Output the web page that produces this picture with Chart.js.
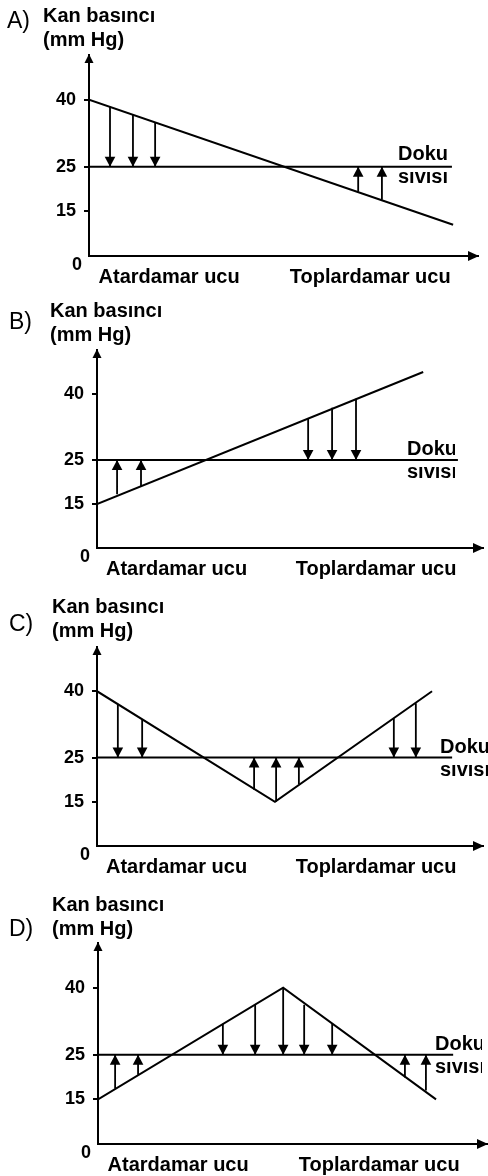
<!DOCTYPE html>
<html>
<head>
<meta charset="utf-8">
<script src="https://cdn.jsdelivr.net/npm/chart.js@4.4.1/dist/chart.umd.min.js"></script>
<style>
  html, body { margin: 0; padding: 0; background: #fff; }
  #wrap { width: 488px; height: 1176px; }
  canvas { display: block; }
</style>
</head>
<body>
<div id="wrap">
  <canvas id="panelA" width="488" height="290"></canvas>
  <canvas id="panelB" width="488" height="300"></canvas>
  <canvas id="panelC" width="488" height="290"></canvas>
  <canvas id="panelD" width="488" height="296"></canvas>
</div>
<script>
const FONT = "'Liberation Sans', Arial, Helvetica, sans-serif";

// shared axis values
const yTicks = [15, 25, 40];
const tissueLevel = 25;            // doku sıvısı basıncı
const xTickValues = [20.6, 72.3];
const xTickLabels = ['Atardamar ucu', 'Toplardamar ucu'];

// A) kan basıncı düşüyor
const aLineX = [0, 93.6];
const aLineY = [40, 12];
const aLevelEnd = 93.3;
const aArrowX = [5.4, 11.3, 17.0, 69.2, 75.3];
const aArrowFrom = [38.4, 36.6, 34.9, 19.4, 17.6];

// B) kan basıncı artıyor
const bLineX = [0, 84.5];
const bLineY = [15, 45];
const bLevelEnd = 93.5;
const bArrowX = [5.2, 11.4, 54.7, 60.9, 67.1];
const bArrowFrom = [17.2, 19.0, 34.4, 36.9, 38.9];

// C) V seklinde
const cLineX = [0, 46.1, 86.8];
const cLineY = [40, 15, 40];
const cLevelEnd = 92;
const cArrowX = [5.4, 11.7, 40.7, 46.4, 52.3, 76.9, 82.6];
const cArrowFrom = [37.1, 33.7, 17.7, 15, 19, 33.9, 37.3];

// D) ters V seklinde
const dLineX = [0, 47.6, 86.9];
const dLineY = [15, 40, 15];
const dLevelEnd = 91.3;
const dArrowX = [4.4, 10.3, 32.1, 40.4, 47.6, 53.0, 60.2, 78.9, 84.3];
const dArrowFrom = [17.4, 20.5, 31.9, 36.2, 40, 36.2, 31.9, 19.9, 17];

function head(ctx, tx, ty, dx, dy, len, half) {
  ctx.beginPath();
  ctx.moveTo(tx, ty);
  ctx.lineTo(tx - dx * len - dy * half, ty - dy * len + dx * half);
  ctx.lineTo(tx - dx * len + dy * half, ty - dy * len - dx * half);
  ctx.closePath();
  ctx.fill();
}

function makePanel(id, lineX, lineY, levelEnd, arrowX, arrowFrom, box) {
  const canvas = document.getElementById(id);
  const W = canvas.width, H = canvas.height;
  const xAxisH = 32;

  const shafts = [];
  arrowX.forEach((ax, i) => {
    shafts.push({ x: ax, y: arrowFrom[i] }, { x: ax, y: tissueLevel }, { x: ax, y: null });
  });

  const decor = {
    id: 'decor',
    afterDraw(chart) {
      const { ctx, chartArea: a, scales: { x, y } } = chart;
      ctx.save();
      ctx.fillStyle = '#000';

      // axis arrow heads
      head(ctx, a.left, a.top - 1, 0, -1, 9, 4.5);
      head(ctx, a.right + 1, a.bottom, 1, 0, 11, 5);

      // arrow heads of the exchange arrows
      const ly = y.getPixelForValue(tissueLevel);
      arrowX.forEach((ax, i) => {
        const px = x.getPixelForValue(ax);
        const dir = arrowFrom[i] > tissueLevel ? 1 : -1;
        head(ctx, px, ly, 0, dir, 10, 5.3);
      });

      // origin label (axis is broken below 15)
      ctx.font = 'bold 18px ' + FONT;
      ctx.textAlign = 'right';
      ctx.textBaseline = 'alphabetic';
      ctx.fillText('0', a.left - 7, a.bottom + 14);

      // titles
      ctx.textAlign = 'left';
      ctx.font = '23px ' + FONT;
      ctx.fillText(box.letter, box.letterX, box.letterBase);
      ctx.font = 'bold 20px ' + FONT;
      ctx.fillText('Kan basıncı', box.titleX, box.titleBase);
      ctx.fillText('(mm Hg)', box.titleX, box.titleBase + 24);

      // Doku sıvısı label, clipped on the right like the source
      ctx.beginPath();
      ctx.rect(0, 0, box.dokuClip, H);
      ctx.clip();
      ctx.fillText('Doku', box.dokuX, box.dokuBase);
      ctx.fillText('sıvısı', box.dokuX, box.dokuBase + 23);
      ctx.restore();
    }
  };

  return new Chart(canvas, {
    type: 'line',
    data: {
      datasets: [
        {
          data: lineX.map((v, i) => ({ x: v, y: lineY[i] })),
          borderColor: '#000', borderWidth: 2, pointRadius: 0, tension: 0
        },
        {
          data: [{ x: 0, y: tissueLevel }, { x: levelEnd, y: tissueLevel }],
          borderColor: '#000', borderWidth: 2, pointRadius: 0
        },
        {
          data: shafts,
          borderColor: '#000', borderWidth: 1.8, pointRadius: 0, spanGaps: false
        }
      ]
    },
    options: {
      responsive: false,
      animation: false,
      events: [],
      layout: {
        padding: { left: 0, top: box.top, right: W - box.right, bottom: Math.max(0, H - box.bottom - xAxisH) }
      },
      scales: {
        x: {
          type: 'linear', min: 0, max: 100,
          afterFit: s => { s.height = xAxisH; },
          afterBuildTicks: s => { s.ticks = xTickValues.map(v => ({ value: v })); },
          ticks: {
            callback: (v, i) => xTickLabels[i],
            autoSkip: false, maxRotation: 0, minRotation: 0,
            color: '#000', padding: 9,
            font: { family: FONT, size: 20, weight: 'bold' }
          },
          grid: { display: false, drawTicks: false },
          border: { display: true, color: '#000', width: 2 }
        },
        y: {
          type: 'linear', min: 5, max: 50,   // 0 sits at the origin of a broken axis
          afterFit: s => { s.width = box.left; },
          afterBuildTicks: s => { s.ticks = yTicks.map(v => ({ value: v })); },
          ticks: {
            color: '#000', padding: 8,
            font: { family: FONT, size: 18, weight: 'bold' }
          },
          grid: { drawOnChartArea: false, drawTicks: true, tickLength: 5, color: '#000', lineWidth: 2 },
          border: { display: true, color: '#000', width: 2 }
        }
      },
      plugins: { legend: { display: false }, tooltip: { enabled: false } }
    },
    plugins: [decor]
  });
}

makePanel('panelA', aLineX, aLineY, aLevelEnd, aArrowX, aArrowFrom,
  { left: 89, top: 55, right: 478, bottom: 256, letter: 'A)', letterX: 7, letterBase: 28,
    titleX: 43, titleBase: 22, dokuX: 398, dokuBase: 160, dokuClip: 447 });
makePanel('panelB', bLineX, bLineY, bLevelEnd, bArrowX, bArrowFrom,
  { left: 97, top: 60, right: 483, bottom: 258, letter: 'B)', letterX: 9, letterBase: 39,
    titleX: 50, titleBase: 27, dokuX: 407, dokuBase: 165, dokuClip: 455 });
makePanel('panelC', cLineX, cLineY, cLevelEnd, cArrowX, cArrowFrom,
  { left: 97, top: 57, right: 483, bottom: 256, letter: 'C)', letterX: 9, letterBase: 41,
    titleX: 52, titleBase: 23, dokuX: 440, dokuBase: 163, dokuClip: 488 });
makePanel('panelD', dLineX, dLineY, dLevelEnd, dArrowX, dArrowFrom,
  { left: 98, top: 63, right: 487, bottom: 264, letter: 'D)', letterX: 9, letterBase: 56,
    titleX: 52, titleBase: 31, dokuX: 435, dokuBase: 170, dokuClip: 482 });
</script>
</body>
</html>
